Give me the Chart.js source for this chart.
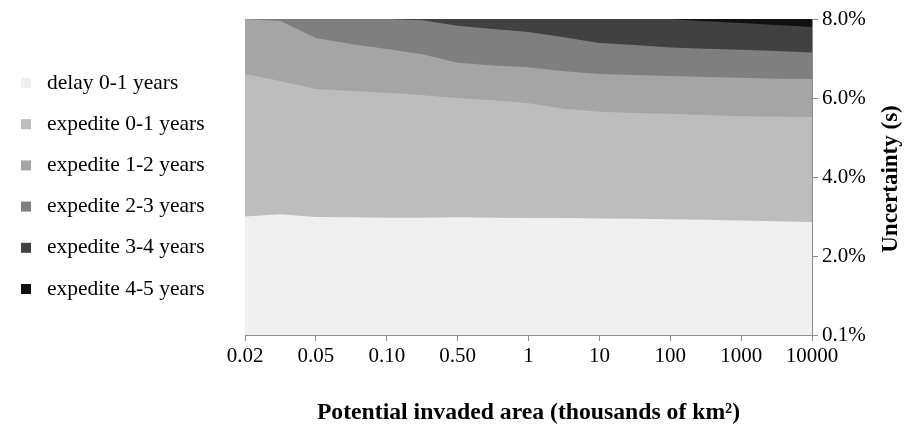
<!DOCTYPE html>
<html><head><meta charset="utf-8">
<script src="https://cdn.jsdelivr.net/npm/chart.js@4"></script>
<style>html,body{margin:0;padding:0;background:#fff;}</style>
</head><body>
<canvas id="c" width="908" height="432"></canvas>
<script>
// x tick labels (categories, evenly spaced)
const categories = ['0.02','0.05','0.10','0.50','1','10','100','1000','10000'];
// sample positions along the category axis (category index units)
const samplePositions = [0,0.5,1,1.5,2,2.5,3,3.5,4,4.5,5,5.5,6,6.5,7,7.5,8];
const seriesNames = ['delay 0-1 years','expedite 0-1 years','expedite 1-2 years','expedite 2-3 years','expedite 3-4 years','expedite 4-5 years'];
// values in percent (stacked)
const delay01    = [3.00,3.06,2.99,2.98,2.97,2.97,2.98,2.97,2.96,2.96,2.95,2.94,2.93,2.92,2.90,2.88,2.86];
const expedite01 = [3.61,3.37,3.24,3.20,3.16,3.10,3.02,2.97,2.91,2.77,2.70,2.68,2.67,2.65,2.64,2.65,2.66];
const expedite12 = [1.39,1.52,1.29,1.19,1.11,1.04,0.89,0.88,0.91,0.95,0.96,0.96,0.96,0.96,0.97,0.96,0.96];
const expedite23 = [0.00,0.05,0.48,0.63,0.76,0.86,0.94,0.93,0.89,0.86,0.78,0.76,0.72,0.72,0.71,0.70,0.67];
const expedite34 = [0.00,0.00,0.00,0.00,0.00,0.03,0.17,0.25,0.33,0.46,0.61,0.66,0.72,0.69,0.68,0.66,0.65];
const expedite45 = [0.00,0.00,0.00,0.00,0.00,0.00,0.00,0.00,0.00,0.00,0.00,0.00,0.00,0.06,0.10,0.15,0.20];
const yTickLabels = ['0.1%','2.0%','4.0%','6.0%','8.0%'];
const seriesColors = ['#efefef','#bdbdbd','#a5a5a5','#7f7f7f','#414141','#111111'];

const allSeries = [delay01, expedite01, expedite12, expedite23, expedite34, expedite45];
const SERIF = "'Liberation Serif','Times New Roman',serif";
const AXIS_GRAY = '#8c8c8c';

const datasets = allSeries.map((vals, i) => ({
  label: seriesNames[i],
  data: vals.map((v, j) => ({x: samplePositions[j], y: v})),
  xAxisID: 'x',
  yAxisID: 'y',
  backgroundColor: seriesColors[i],
  borderColor: seriesColors[i],
  borderWidth: 0,
  pointRadius: 0,
  tension: 0,
  fill: 'origin'
}));

const extras = {
  id: 'extras',
  afterDraw(chart) {
    const ctx = chart.ctx;
    ctx.save();
    // legend
    ctx.font = '21.5px ' + SERIF;
    ctx.textBaseline = 'middle';
    ctx.textAlign = 'left';
    chart.data.datasets.forEach((ds, i) => {
      const cy = 83 + i * 41.2;
      ctx.fillStyle = ds.backgroundColor;
      ctx.fillRect(21, cy - 5, 10, 10);
      ctx.fillStyle = '#000';
      ctx.fillText(ds.label, 47, cy);
    });
    // right axis title, reading bottom to top
    const ya = chart.scales.y;
    ctx.translate(891, (ya.top + ya.bottom) / 2 + 2);
    ctx.rotate(-Math.PI / 2);
    ctx.font = 'bold 23px ' + SERIF;
    ctx.textAlign = 'center';
    ctx.fillStyle = '#000';
    ctx.fillText('Uncertainty (s)', 0, 0);
    ctx.restore();
  }
};

new Chart(document.getElementById('c'), {
  type: 'line',
  data: { datasets },
  options: {
    responsive: false,
    animation: false,
    devicePixelRatio: 1,
    layout: { padding: { top: 19, left: 0, right: 0, bottom: 0 } },
    plugins: { legend: { display: false }, tooltip: { enabled: false } },
    scales: {
      x: {
        type: 'linear', position: 'bottom', min: 0, max: 8,
        ticks: { stepSize: 1, autoSkip: false, maxRotation: 0, padding: 3,
          color: '#000', font: { family: SERIF, size: 21 },
          callback: (v) => categories[v] !== undefined ? categories[v] : '' },
        grid: { drawOnChartArea: false, drawTicks: true, tickLength: 6, color: AXIS_GRAY },
        border: { color: AXIS_GRAY, width: 1 },
        title: { display: true, text: 'Potential invaded area (thousands of km²)', color: '#000',
          font: { family: SERIF, size: 23.7, weight: 'bold' }, padding: { top: 0, bottom: 5 } },
        afterFit: (s) => { s.height = 97; }
      },
      yl: {
        type: 'linear', position: 'left', display: true,
        ticks: { display: false },
        grid: { display: true, drawOnChartArea: false, drawTicks: false },
        border: { color: AXIS_GRAY, width: 1 },
        afterFit: (s) => { s.width = 245; }
      },
      y: {
        type: 'linear', position: 'right', min: 0, max: 8, stacked: true,
        ticks: { stepSize: 2, padding: 4, color: '#000', font: { family: SERIF, size: 21 },
          callback: (v, i) => yTickLabels[i] },
        grid: { drawOnChartArea: false, drawTicks: true, tickLength: 6, color: AXIS_GRAY },
        border: { color: AXIS_GRAY, width: 1 },
        afterFit: (s) => { s.width = 96; }
      }
    }
  },
  plugins: [extras]
});
</script>
</body></html>
